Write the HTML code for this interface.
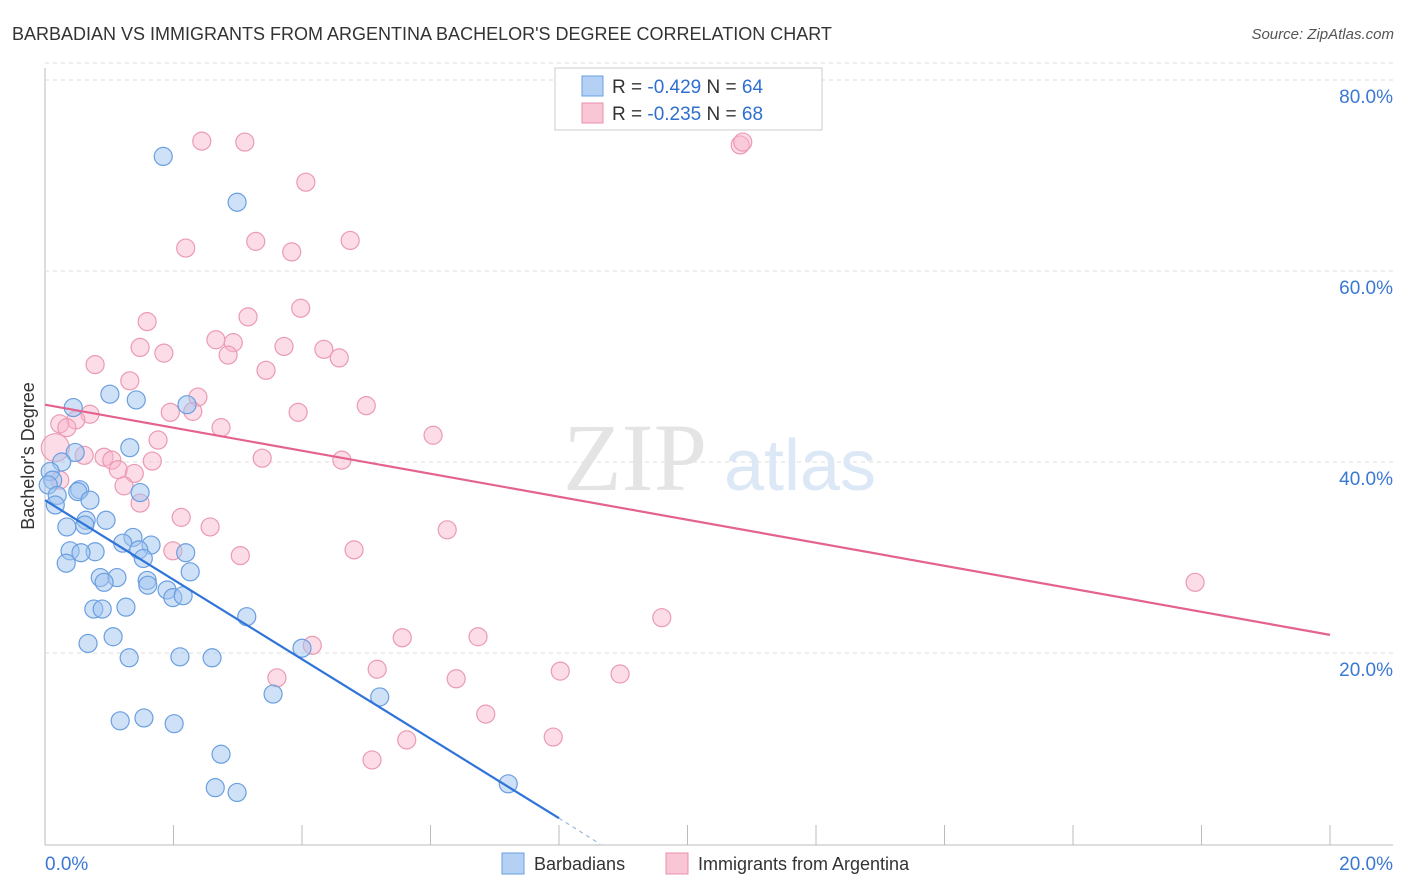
<!DOCTYPE html>
<html><head><meta charset="utf-8"><style>
body{margin:0;background:#fff;font-family:"Liberation Sans",sans-serif;}
svg{display:block}
</style></head><body>
<svg id="chart" width="1406" height="892">
<text x="12" y="40" font-size="18" fill="#333">BARBADIAN VS IMMIGRANTS FROM ARGENTINA BACHELOR'S DEGREE CORRELATION CHART</text>
<text x="1394" y="39" font-size="15" fill="#555" text-anchor="end" font-style="italic">Source: ZipAtlas.com</text>
<g id="grid"></g>
<text x="635" y="490" font-size="96" fill="#e4e4e4" font-family="Liberation Serif,serif" text-anchor="middle">ZIP</text>
<text x="800" y="490" font-size="72" fill="#dce8f6" text-anchor="middle">atlas</text>
<g id="marks"></g>
<text transform="translate(34,456) rotate(-90)" font-size="18" fill="#333" text-anchor="middle">Bachelor's Degree</text>
<g>
<rect x="555" y="68" width="267" height="62" fill="#fff" stroke="#ccc"/>
<rect x="582" y="76" width="21" height="20" fill="#b5d0f5" stroke="#6a9fe0"/>
<text x="612" y="93" font-size="19" fill="#333">R = <tspan fill="#2f6fcf">-0.429</tspan>   N = <tspan fill="#2f6fcf">64</tspan></text>
<rect x="582" y="103" width="21" height="20" fill="#f8c6d5" stroke="#e890aa"/>
<text x="612" y="120" font-size="19" fill="#333">R = <tspan fill="#2f6fcf">-0.235</tspan>   N = <tspan fill="#2f6fcf">68</tspan></text>
</g>
<g>
<rect x="502" y="853" width="22" height="21" fill="#b5d0f5" stroke="#6a9fe0"/>
<text x="534" y="870" font-size="18" fill="#333">Barbadians</text>
<rect x="666" y="853" width="22" height="21" fill="#f8c6d5" stroke="#e890aa"/>
<text x="698" y="870" font-size="18" fill="#333">Immigrants from Argentina</text>
</g>
</svg>
<script>
const yTicks=[20,40,60,80];
const yTickLabels=["20.0%","40.0%","60.0%","80.0%"];
const xTicks=[0,2,4,6,8,10,12,14,16,18,20];
const xTickLabels=["0.0%","20.0%"];
const blueX=[1.84,2.99,1.01,1.42,0.44,2.21,1.32,0.47,0.26,0.08,0.12,0.05,0.19,1.48,0.54,0.51,0.70,0.16,0.95,0.64,0.34,0.62,1.37,1.21,1.65,1.46,0.39,0.78,0.56,2.19,1.53,0.33,2.26,0.86,1.12,0.92,1.59,1.60,1.90,1.99,2.15,0.76,0.89,1.26,3.14,1.06,0.67,4.00,1.31,2.10,2.60,3.55,5.21,1.17,1.54,2.01,2.74,2.65,2.99,7.21];
const blueY=[72.0,67.2,47.1,46.5,45.7,46.0,41.5,41.0,40.0,39.0,38.1,37.6,36.5,36.8,37.1,36.9,36.0,35.5,33.9,33.9,33.2,33.4,32.1,31.5,31.3,30.8,30.7,30.6,30.5,30.5,29.9,29.4,28.5,27.9,27.9,27.4,27.6,27.1,26.6,25.8,26.0,24.6,24.6,24.8,23.8,21.7,21.0,20.5,19.5,19.6,19.5,15.7,15.4,12.9,13.2,12.6,9.4,5.9,5.4,6.3];
const pinkX=[2.44,3.11,10.82,10.86,4.06,2.19,3.28,3.84,4.75,3.98,1.59,3.16,1.48,2.66,2.93,1.85,3.72,4.34,4.58,0.78,2.85,3.44,1.32,2.38,1.95,2.30,3.94,5.00,0.70,0.48,0.23,0.34,2.74,6.04,1.76,0.61,0.92,1.04,1.67,3.38,4.62,1.14,1.39,0.23,1.23,1.48,2.12,2.57,6.26,1.99,3.04,4.81,17.90,9.60,5.56,6.74,4.16,5.17,8.02,8.95,3.61,6.40,6.86,5.63,7.91,5.09,0.16];
const pinkY=[73.6,73.5,73.2,73.5,69.3,62.4,63.1,62.0,63.2,56.1,54.7,55.2,52.0,52.8,52.5,51.4,52.1,51.8,50.9,50.2,51.2,49.6,48.5,46.8,45.2,45.3,45.2,45.9,45.0,44.4,44.0,43.6,43.6,42.8,42.3,40.7,40.5,40.2,40.1,40.4,40.2,39.2,38.8,38.1,37.5,35.7,34.2,33.2,32.9,30.7,30.2,30.8,27.4,23.7,21.6,21.7,20.8,18.3,18.1,17.8,17.4,17.3,13.6,10.9,11.2,8.8,41.5];
const blueTrend=[[0,36.0],[8,2.7]];
const blueTrendExt=[[8,2.7],[8.64,0]];
const pinkTrend=[[0,46.0],[20,21.9]];
const NS="http://www.w3.org/2000/svg";
const xs=v=>45+v*64.25, ys=v=>844-v*9.55;
function mk(tag,attrs,parent){const e=document.createElementNS(NS,tag);for(const k in attrs)e.setAttribute(k,attrs[k]);parent.appendChild(e);return e;}
const grid=document.getElementById('grid'), marks=document.getElementById('marks');
let ax=mk('line',{x1:45,y1:68,x2:45,y2:845,stroke:'#bbb'},grid);


let bx=mk('line',{x1:45,y1:845,x2:1393,y2:845,stroke:'#bbb'},grid);


mk('line',{x1:45,y1:ys(80)-17,x2:1393,y2:ys(80)-17,stroke:'#ddd','stroke-dasharray':'4,4'},grid);
yTicks.forEach((t,i)=>{
 const g=mk('line',{x1:45,y1:ys(t),x2:1393,y2:ys(t),stroke:'#ddd','stroke-dasharray':'4,4'},grid);
 
 
 const tx=mk('text',{x:1393,y:ys(t)+23,'font-size':19,fill:'#3a78d4','text-anchor':'end'},grid);
 tx.textContent=yTickLabels[i];
 
 
});
xTicks.forEach(t=>{
 const l=mk('line',{x1:xs(t),y1:825,x2:xs(t),y2:845,stroke:'#bbb'},grid);
 
 
});
const xl0=mk('text',{x:45,y:870,'font-size':19,fill:'#3a78d4'},grid);xl0.textContent=xTickLabels[0];


const xl1=mk('text',{x:1393,y:870,'font-size':19,fill:'#3a78d4','text-anchor':'end'},grid);xl1.textContent=xTickLabels[1];


pinkX.forEach((v,i)=>{
 const c=mk('circle',{cx:xs(v),cy:ys(pinkY[i]),r:i===pinkX.length-1?14:9,fill:'rgba(248,180,202,0.45)',stroke:'#eb9ab3','stroke-width':1.2},marks);
 
 
});
blueX.forEach((v,i)=>{
 const c=mk('circle',{cx:xs(v),cy:ys(blueY[i]),r:9,fill:'rgba(160,196,240,0.5)',stroke:'#6a9fe0','stroke-width':1.2},marks);
 
 
});
const pl=mk('line',{x1:xs(pinkTrend[0][0]),y1:ys(pinkTrend[0][1]),x2:xs(pinkTrend[1][0]),y2:ys(pinkTrend[1][1]),stroke:'#e4628f','stroke-width':2.2},marks);


const bl=mk('line',{x1:xs(blueTrend[0][0]),y1:ys(blueTrend[0][1]),x2:xs(blueTrend[1][0]),y2:ys(blueTrend[1][1]),stroke:'#2f74d8','stroke-width':2.2},marks);


const bd=mk('line',{x1:xs(blueTrendExt[0][0]),y1:ys(blueTrendExt[0][1]),x2:xs(blueTrendExt[1][0]),y2:ys(blueTrendExt[1][1]),stroke:'#9bb8e0','stroke-width':1.2,'stroke-dasharray':'4,4'},marks);


</script>
</body></html>
